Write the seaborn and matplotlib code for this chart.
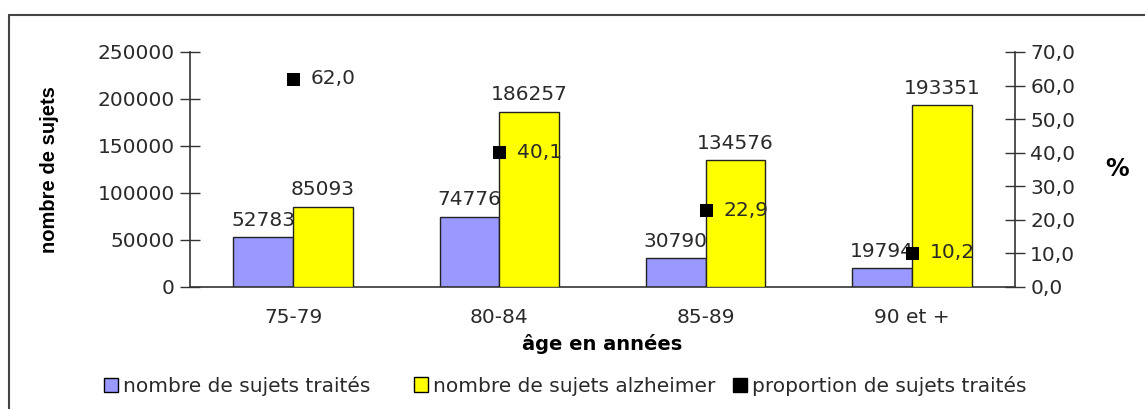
import matplotlib
matplotlib.use("Agg")
import matplotlib.pyplot as plt
import seaborn as sns
import pandas as pd
from matplotlib.lines import Line2D
from matplotlib.patches import Patch

categories = ["75-79", "80-84", "85-89", "90 et +"]
traites = [52783, 74776, 30790, 19794]
alzheimer = [85093, 186257, 134576, 193351]
proportion = [62.0, 40.1, 22.9, 10.2]
series_names = ["nombre de sujets traités", "nombre de sujets alzheimer"]
prop_name = "proportion de sujets traités"

sns.set_theme(style="white")
plt.rcParams['font.family'] = ['DejaVu Sans']

df = pd.DataFrame({
    "age": categories * 2,
    "valeur": traites + alzheimer,
    "serie": [series_names[0]] * 4 + [series_names[1]] * 4,
})

fig = plt.figure(figsize=(11.45, 4.09), dpi=100)
ax = fig.add_axes([190/1145, 1 - 287/409, (1015-190)/1145, (287-52)/409])

palette = {series_names[0]: "#9999FF", series_names[1]: "#FFFF00"}
sns.barplot(data=df, x="age", y="valeur", hue="serie", palette=palette,
            width=0.58, edgecolor="#222222", linewidth=1.0, ax=ax,
            legend=False, saturation=1)

fs = 14.5
tc = "#2a2a2a"
# z-order: blue bars, blue labels, yellow bars, yellow labels
for i, cont in enumerate(ax.containers):
    for patch in cont.patches:
        patch.set_zorder(2 + 2 * i)
    for patch, v in zip(cont.patches, [traites, alzheimer][i]):
        ax.text(patch.get_x() + patch.get_width() / 2, patch.get_height() + 8000,
                f"{v}", ha="center", va="bottom", fontsize=fs, color=tc,
                zorder=3 + 2 * i)

ax.set_ylim(0, 250000)
ax.set_xlim(-0.5, 3.5)
ax.set_yticks(range(0, 250001, 50000))
ax.set_yticklabels([str(v) for v in range(0, 250001, 50000)], fontsize=fs, color=tc)
ax.set_xticks(range(4))
ax.set_xticklabels(categories, fontsize=fs, color=tc)
ax.set_xticks([0.5, 1.5, 2.5], minor=True)
ax.tick_params(axis="x", which="major", length=0, pad=15)
ax.tick_params(axis="x", which="minor", length=12, direction="inout", width=1, color="#333333")
ax.tick_params(axis="y", length=14, direction="inout", width=1, color="#333333", pad=4)
ax.set_xlabel("âge en années", fontsize=14, fontweight="bold", labelpad=5, color="black")
ax.set_ylabel("nombre de sujets", fontsize=14.5, fontweight="bold", labelpad=28,
              family=['Liberation Sans Narrow', 'Liberation Sans'], color="black")
for s in ["top", "right"]:
    ax.spines[s].set_visible(False)
for s in ["left", "bottom"]:
    ax.spines[s].set_color("#333333")
    ax.spines[s].set_linewidth(1.2)

ax2 = ax.twinx()
pdf = pd.DataFrame({"age": list(range(4)), "prop": proportion})
sns.scatterplot(data=pdf, x="age", y="prop", marker="s", s=85, color="black",
                edgecolor="black", ax=ax2, zorder=10, legend=False)
for xi, v in zip(range(4), proportion):
    ax2.text(xi + 0.085, v, f"{v:.1f}".replace(".", ","), ha="left", va="center",
             fontsize=fs, color=tc, zorder=11)
ax2.set_ylim(0, 70)
ax2.set_xlim(-0.5, 3.5)
ax2.set_yticks(range(0, 71, 10))
ax2.set_yticklabels([f"{v:.1f}".replace(".", ",") for v in range(0, 71, 10)],
                    fontsize=fs, color=tc)
ax2.tick_params(axis="y", length=14, direction="inout", width=1, color="#333333", pad=4)
ax2.set_ylabel("%", fontsize=17, fontweight="bold", rotation=0, labelpad=30, va="center",
               color="black")
ax2.set_xlabel("")
for s in ["top", "left", "bottom"]:
    ax2.spines[s].set_visible(False)
ax2.spines["right"].set_color("#333333")
ax2.spines["right"].set_linewidth(1.2)
ax2.grid(False)
ax.grid(False)

handles = [Patch(facecolor="#9999FF", edgecolor="black", linewidth=1),
           Patch(facecolor="#FFFF00", edgecolor="black", linewidth=1),
           Patch(facecolor="black", edgecolor="black", linewidth=1)]
labels = series_names + [prop_name]
xpos = [104, 414, 733]
for h, lab, xp in zip(handles, labels, xpos):
    fig.legend([h], [lab], loc="center left",
               bbox_to_anchor=(xp/1145, 1 - 386/409), frameon=False,
               fontsize=14.5, handlelength=0.7, handleheight=0.7, handletextpad=0.25,
               borderaxespad=0, borderpad=0, labelcolor=tc)

# outer frame (top and left edges visible)
fig.add_artist(Line2D([9/1145, 9/1145], [0, 1 - 15/409], transform=fig.transFigure,
                      color="#444444", linewidth=1.5))
fig.add_artist(Line2D([9/1145, 1], [1 - 15/409, 1 - 15/409], transform=fig.transFigure,
                      color="#444444", linewidth=1.5))

fig.savefig("out.png", dpi=100)
